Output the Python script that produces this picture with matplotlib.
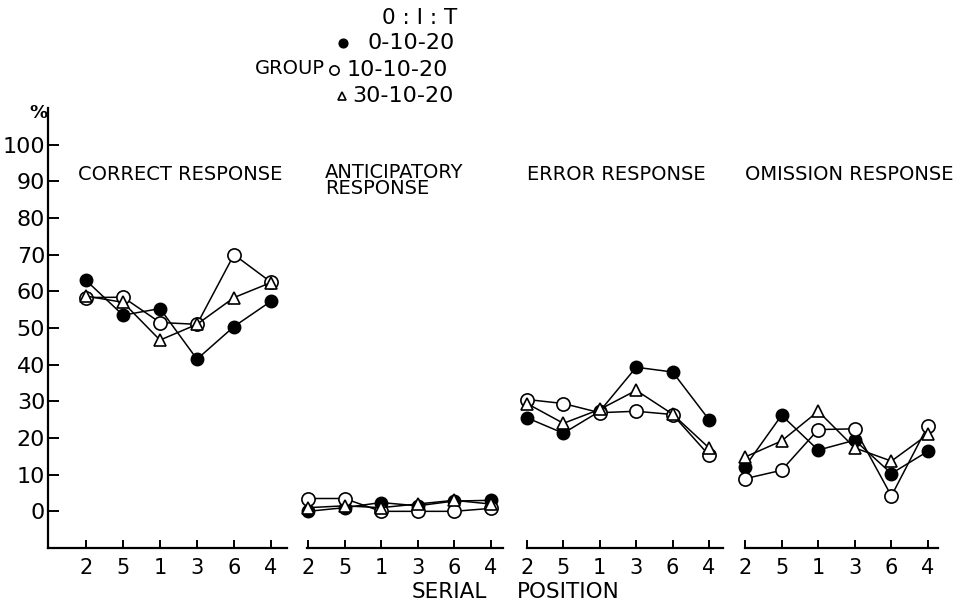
import matplotlib
matplotlib.use('Agg')
import matplotlib.pyplot as plt
from matplotlib.lines import Line2D

serial_labels = ['2', '5', '1', '3', '6', '4']
panel_titles = ['CORRECT RESPONSE', 'ANTICIPATORY\nRESPONSE',
                'ERROR RESPONSE', 'OMISSION RESPONSE']
y_ticks = [0, 10, 20, 30, 40, 50, 60, 70, 80, 90, 100]
group_names = ['0-10-20', '10-10-20', '30-10-20']

# group 0-10-20 (filled circles), one list per panel
g0_correct = [63, 53.5, 55.3, 41.5, 50.4, 57.3]
g0_anticip = [0, 1, 2.4, 1.5, 2.8, 3]
g0_error = [25.5, 21.3, 27.3, 39.3, 38, 25]
g0_omission = [12.2, 26.2, 16.7, 19.4, 10.3, 16.4]

# group 10-10-20 (open circles)
g10_correct = [58.3, 58.4, 51.5, 51, 70, 62.5]
g10_anticip = [3.5, 3.5, 0, 0, 0, 0.8]
g10_error = [30.5, 29.4, 26.9, 27.3, 26.4, 15.3]
g10_omission = [8.9, 11.2, 22.3, 22.5, 4.2, 23.4]

# group 30-10-20 (open triangles)
g30_correct = [58.7, 57, 46.7, 51, 58.3, 62.4]
g30_anticip = [1, 1.5, 1, 2, 3, 2]
g30_error = [29.4, 24, 27.8, 33, 26.5, 17.3]
g30_omission = [14.8, 19.2, 27.3, 17.3, 13.7, 21]

groups = [
    [g0_correct, g0_anticip, g0_error, g0_omission],
    [g10_correct, g10_anticip, g10_error, g10_omission],
    [g30_correct, g30_anticip, g30_error, g30_omission],
]
styles = [
    dict(marker='o', mfc='black', mec='black', ms=9),
    dict(marker='o', mfc='white', mec='black', ms=9.5, mew=1.2),
    dict(marker='^', mfc='white', mec='black', ms=9, mew=1.2),
]

W, H = 955, 604
fig = plt.figure(figsize=(W / 100, H / 100), dpi=100)
fig.set_facecolor('white')

# pixel layout: left edge, right edge, first tick, tick spacing
layout = [(48, 287, 86, 37.0), (307, 503, 308, 36.5),
          (527, 723, 527, 36.4), (745, 938, 745, 36.6)]
ax_bottom, ax_top = 548, 108
xs = list(range(len(serial_labels)))

for i, (l, r, t0, sp) in enumerate(layout):
    ax = fig.add_axes([l / W, (H - ax_bottom) / H, (r - l) / W,
                       (ax_bottom - ax_top) / H])
    ax.set_xlim((l - t0) / sp, (r - t0) / sp)
    ax.set_ylim(-10, 110)
    for g in range(3):
        ax.plot(xs, groups[g][i], color='black', lw=1.1, clip_on=False,
                zorder=3 + g, **styles[g])
    for s in ['top', 'right']:
        ax.spines[s].set_visible(False)
    ax.spines['bottom'].set_linewidth(1.6)
    ax.set_xticks(xs)
    ax.set_xticklabels(serial_labels, fontsize=15)
    ax.tick_params(axis='x', direction='in', length=6, width=1.4, pad=7)
    if i == 0:
        ax.spines['left'].set_linewidth(1.6)
        ax.set_yticks(y_ticks)
        ax.set_yticklabels([str(v) for v in y_ticks], fontsize=16)
        ax.tick_params(axis='y', direction='in', length=8, width=1.4, pad=2)
    else:
        ax.spines['left'].set_visible(False)
        ax.set_yticks([])
    ax.patch.set_alpha(0)

# panel titles
title_pos = [(78, 175), (325, 181), (527, 175), (745, 175)]
for (x, y), t in zip(title_pos, panel_titles):
    fig.text(x / W, 1 - y / H, t, fontsize=14, ha='left', va='center',
             linespacing=0.8)

fig.text(38 / W, 1 - 113 / H, '%', fontsize=13, ha='center', va='center',
         fontweight='bold')
fig.text(412 / W, 1 - 592 / H, 'SERIAL', fontsize=15.5,
         ha='left', va='center')
fig.text(517 / W, 1 - 592 / H, 'POSITION', fontsize=15.5,
         ha='left', va='center')

# legend
fig.text(420 / W, 1 - 18 / H, '0 : I : T', fontsize=15.5, ha='center',
         va='center')
fig.text(290 / W, 1 - 69 / H, 'GROUP', fontsize=14, ha='center', va='center')
leg_rows = [(343, 43, 367), (334, 70, 347), (342, 96, 352)]
for (mx, y, tx), name, st in zip(leg_rows, group_names, styles):
    st2 = dict(st)
    st2['ms'] = st['ms'] * 0.7
    fig.add_artist(Line2D([mx / W], [1 - y / H], transform=fig.transFigure,
                          ls='none', **st2))
    fig.text(tx / W, 1 - y / H, name, fontsize=16, ha='left', va='center')

fig.savefig('out.png', dpi=100)
